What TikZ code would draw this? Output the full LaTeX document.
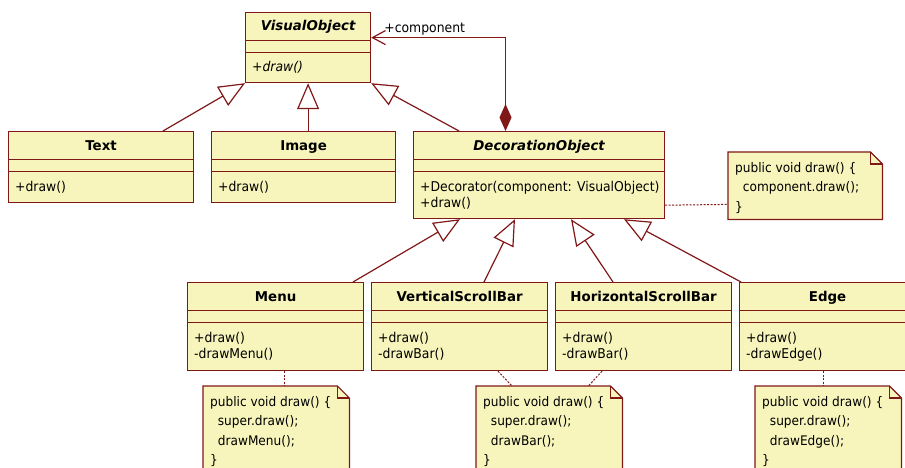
\documentclass[tikz,border=0pt]{standalone}
\usepackage{fontspec}
\setmainfont{DejaVu Sans}[FakeStretch=0.92]
\newfontfamily\ttlfont{DejaVu Sans}[FakeStretch=0.99]
\usetikzlibrary{arrows.meta,calc}
\definecolor{umlred}{RGB}{128,24,24}
\definecolor{umlfill}{RGB}{247,245,187}
\tikzset{
  umlline/.style={draw=umlred, line width=1.2pt},
  cls/.style={umlline, fill=umlfill, rectangle, anchor=north west, inner sep=0pt},
  mth/.style={anchor=base west, inner sep=0pt, font=\fontsize{13.5}{16.5}\selectfont},
  notetxt/.style={anchor=base west, inner sep=0pt, font=\fontsize{13.2}{19.5}\selectfont},
  gen/.style={umlline, -{Triangle[length=26pt,width=22pt,fill=white,line width=1.2pt]}},
  comp/.style={umlline, {Diamond[length=27pt,width=12pt,fill=umlred]}-{Straight Barb[length=13pt,width=14pt,line width=1.2pt]}},
  notelink/.style={draw=umlred, line width=1pt, dash pattern=on 2pt off 1.5pt},
}
\newcommand\umllines[1]{\begin{tabular}[t]{@{}l@{}}#1\end{tabular}}
\newcommand\umlclass[8]{%
  \node[cls, minimum width=#4pt, minimum height=#5pt] (#1) at (#2,#3) {};
  \draw[umlline] ([yshift=-28.5pt]#1.north west) -- ([yshift=-28.5pt]#1.north east);
  \draw[umlline] ([yshift=-40.5pt]#1.north west) -- ([yshift=-40.5pt]#1.north east);
  \node[font=\ttlfont\fontsize{13.5}{16.5}\selectfont#6, inner sep=0pt, anchor=base] (#1-t) at ([yshift=-19pt]#1.north) {#7};
  \node[mth] (#1-m) at ([xshift=7pt,yshift=-60pt]#1.north west) {\umllines{#8}};
}
\newcommand\umlnote[6]{%
  \node[anchor=north west, minimum width=#4pt, minimum height=#5pt, inner sep=0pt] (#1) at (#2,#3) {};
  \draw[umlline, fill=umlfill] (#1.north west) -- ([xshift=-12pt]#1.north east) -- ([yshift=-12pt]#1.north east) -- (#1.south east) -- (#1.south west) -- cycle;
  \draw[umlline] ([xshift=-12pt]#1.north east) |- ([yshift=-12pt]#1.north east);
  \node[notetxt] (#1-t) at ([xshift=7pt,yshift=-20pt]#1.north west) {\umllines{#6}};
}
\begin{document}
\begin{tikzpicture}[x=1pt,y=-1pt]
\useasboundingbox (0,0) rectangle (905,468);
\clip (0,0) rectangle (905,468);
\fill[white] (0,0) rectangle (905,468);

\umlclass{vo}{245}{12}{125}{70}{\bfseries\itshape}{VisualObject}{\itshape +draw()}
\umlclass{text}{8}{131}{185}{71}{\bfseries}{Text}{+draw()}
\umlclass{image}{211}{131}{184}{71}{\bfseries}{Image}{+draw()}
\umlclass{deco}{413}{131}{251}{87}{\bfseries\itshape}{DecorationObject}{+Decorator(component: VisualObject)\\+draw()}
\umlclass{menu}{187}{282}{176}{88}{\bfseries}{Menu}{+draw()\\-drawMenu()}
\umlclass{vsb}{371}{282}{176}{88}{\bfseries}{VerticalScrollBar}{+draw()\\-drawBar()}
\umlclass{hsb}{555}{282}{176}{88}{\bfseries}{HorizontalScrollBar}{+draw()\\-drawBar()}
\umlclass{edge}{739}{282}{176}{88}{\bfseries}{Edge}{+draw()\\-drawEdge()}

\umlnote{n1}{728}{152}{154}{67}{public void draw() \{\\\ \ component.draw();\\\}}
\umlnote{nm}{203}{386}{146}{100}{public void draw() \{\\\ \ super.draw();\\\ \ drawMenu();\\\}}
\umlnote{nb}{476}{386}{146}{100}{public void draw() \{\\\ \ super.draw();\\\ \ drawBar();\\\}}
\umlnote{ne}{755}{386}{146}{100}{public void draw() \{\\\ \ super.draw();\\\ \ drawEdge();\\\}}

% generalizations
\draw[gen] ([xshift=155pt]text.north west) -- (vo.south west);
\draw[gen] (vo.south |- image.north) -- (vo.south);
\draw[gen] ([xshift=46pt]deco.north west) -- (vo.south east);
\draw[gen] ([xshift=166pt]menu.north west) -- ([xshift=47pt]deco.south west);
\draw[gen] ([xshift=113pt]vsb.north west) -- ([xshift=102pt]deco.south west);
\draw[gen] ([xshift=58pt]hsb.north west) -- ([xshift=158pt]deco.south west);
\draw[gen] ([xshift=2pt]edge.north west) -- ([xshift=211pt]deco.south west);

% composition
\draw[comp] ([xshift=92.5pt]deco.north west) |- ([yshift=10pt]vo.east);
\node[anchor=base west, inner sep=0pt, font=\fontsize{13.5}{16.5}\selectfont] (lbl) at ([xshift=13pt,yshift=15pt]vo.east) {+component};

% note links
\draw[notelink] ([yshift=14pt]deco.south east) -- ([yshift=15pt]n1.south west);
\draw[notelink] ([xshift=9pt]menu.south) -- ([xshift=9pt]menu.south |- nm.north);
\draw[notelink] ([xshift=127pt]vsb.south west) -- ([xshift=36pt]nb.north west);
\draw[notelink] ([xshift=47pt]hsb.south west) -- ([xshift=-34pt]nb.north east);
\draw[notelink] ([xshift=84pt]edge.south west) -- ([xshift=84pt]edge.south west |- ne.north);
\end{tikzpicture}
\end{document}
